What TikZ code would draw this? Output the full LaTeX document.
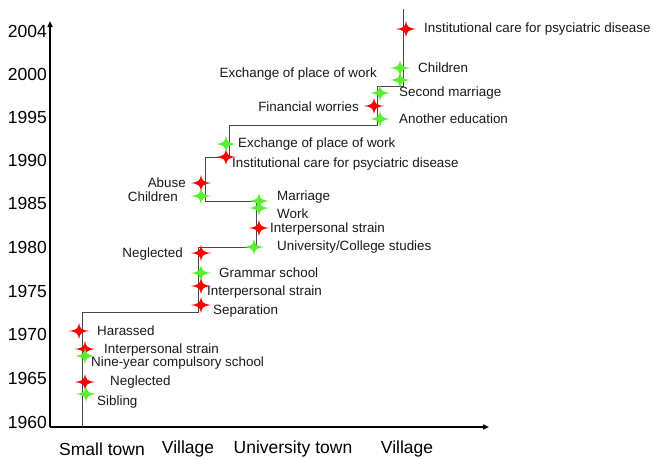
\documentclass[tikz,border=0pt]{standalone}
\usepackage{fontspec}
\setmainfont{Liberation Sans}
\usetikzlibrary{arrows.meta}
\definecolor{evred}{RGB}{255,0,0}
\definecolor{evgreen}{RGB}{90,240,50}
\tikzset{
  starmark/.pic={\fill (-10.5,0) .. controls (-2.2,-1) and (-1,-2.2) .. (0,-8)
     .. controls (1,-2.2) and (2.2,-1) .. (10.5,0)
     .. controls (2.2,1) and (1,2.2) .. (0,8)
     .. controls (-1,2.2) and (-2.2,1) .. cycle;},
  redmark/.style={evred},
  greenmark/.style={evgreen},
  lab/.style={font=\fontsize{13.4}{14}\selectfont, inner sep=0pt, text=black!90},
  labr/.style={lab, anchor=west},
  labl/.style={lab, anchor=east},
  yearlab/.style={font=\fontsize{17.5}{18}\selectfont, inner sep=0pt, anchor=east},
  placelab/.style={font=\fontsize{17.5}{18}\selectfont, inner sep=0pt},
  axisline/.style={line width=1.6pt, -{Triangle[length=6pt,width=5pt]}},
  pathline/.style={line width=0.9pt, black!72},
}
\begin{document}
\begin{tikzpicture}[x=1pt,y=-1pt]
\useasboundingbox (0,0) rectangle (653,458);
% axes
\coordinate (o) at (50,427);
\coordinate (ytop) at (50,21);
\coordinate (xend) at (489,427);
\draw[axisline] (o) -- (ytop);
\draw[axisline] (o) -- (xend);
% year labels
\node[yearlab] (y2004) at (47,31) {2004};
\node[yearlab] (y2000) at (47,74) {2000};
\node[yearlab] (y1995) at (47,117) {1995};
\node[yearlab] (y1990) at (47,160) {1990};
\node[yearlab] (y1985) at (47,203) {1985};
\node[yearlab] (y1980) at (47,247) {1980};
\node[yearlab] (y1975) at (47,291) {1975};
\node[yearlab] (y1970) at (47,334) {1970};
\node[yearlab] (y1965) at (47,378) {1965};
\node[yearlab] (y1960) at (47,422) {1960};
% place labels
\node[placelab] (p1) at (102,449) {Small town};
\node[placelab] (p2) at (188,449) {Village};
\node[placelab] (p3) at (293,449) {University town};
\node[placelab] (p4) at (407,449) {Village};
% life path
\coordinate (a0) at (82,427);
\draw[pathline] (a0) -- (82,312) -- (198,312) -- (198,247) -- (256,247) -- (256,201)
  -- (205,201) -- (205,157) -- (229,157) -- (229,125) -- (377,125) -- (377,86)
  -- (403,86) -- (403,9);
% markers
\foreach \n/\x/\y/\c in {
  m1/79/331/red, m2/85/349/red, m3/85/356/green, m4/85/382/red, m5/86/394/green,
  m6/201/253/red, m7/201/273/green, m8/201/286/red, m9/201/305/red,
  m10/254/247/green, m11/259/228/red, m12/259/208/green, m13/259/201/green,
  m14/201/183/red, m15/201/196/green, m16/226/157/red, m17/226/144/green,
  m18/380/119/green, m19/374/106/red, m20/380/93/green, m21/400/80/green,
  m22/400/68/green, m23/406/29/red}
{\coordinate (\n) at (\x,\y); \pic[\c mark] at (\n) {starmark};}
% labels
\node[labr] (t1) at (97,331) {Harassed};
\node[labr] (t2) at (104,350) {Interpersonal strain};
\node[labr] (t3) at (91,363) {Nine-year compulsory school};
\node[labr] (t4) at (110,382) {Neglected};
\node[labr] (t5) at (97,402) {Sibling};
\node[labl] (t6) at (183,254) {Neglected};
\node[labr] (t7) at (219,273) {Grammar school};
\node[labr] (t8) at (207,292) {Interpersonal strain};
\node[labr] (t9) at (213,311) {Separation};
\node[labr] (t10) at (277,247) {University/College studies};
\node[labr] (t11) at (270,229) {Interpersonal strain};
\node[labr] (t12) at (277,214) {Work};
\node[labr] (t13) at (277,197) {Marriage};
\node[labl] (t14) at (186,183) {Abuse};
\node[labl] (t15) at (178,197) {Children};
\node[labr] (t16) at (232,164) {Institutional care for psyciatric disease};
\node[labr] (t17) at (238,144) {Exchange of place of work};
\node[labr] (t18) at (399,119) {Another education};
\node[labl] (t19) at (359,107) {Financial worries};
\node[labr] (t20) at (399,93) {Second marriage};
\node[labl] (t21) at (377,74) {Exchange of place of work};
\node[labr] (t22) at (418,68) {Children};
\node[labr] (t23) at (424,29) {Institutional care for psyciatric disease};
\end{tikzpicture}
\end{document}
